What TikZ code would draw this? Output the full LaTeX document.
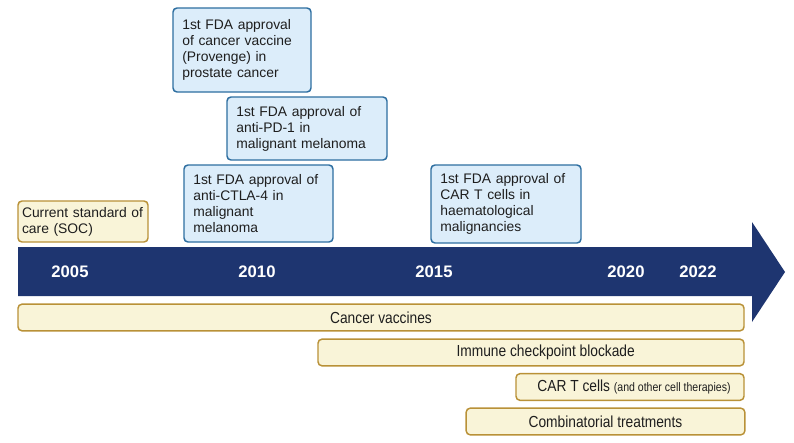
\documentclass[tikz,border=0pt]{standalone}
\usepackage{fontspec}
\setmainfont{Liberation Sans}
\newfontfamily\condfont{Liberation Sans}[FakeStretch=0.86]
\definecolor{navyarrow}{RGB}{30,53,112}
\definecolor{bluefill}{RGB}{220,237,250}
\definecolor{blueline}{RGB}{45,110,160}
\definecolor{sandfill}{RGB}{249,244,216}
\definecolor{sandline}{RGB}{185,145,55}
\definecolor{inktext}{RGB}{30,30,30}
\usetikzlibrary{positioning}

\begin{document}
\begin{tikzpicture}[x=0.75pt,y=-0.75pt,
  event/.style={draw=blueline,fill=bluefill,line width=1.1pt,rounded corners=3pt,
                inner xsep=7pt,align=left,text=inktext,
                font=\fontsize{10.4}{12}\selectfont},
  soc/.style={draw=sandline,fill=sandfill,line width=1.1pt,rounded corners=3pt,
              inner xsep=3pt,align=left,text=inktext,
              font=\fontsize{10.4}{12}\selectfont},
  bar/.style={draw=sandline,fill=sandfill,line width=1.1pt,rounded corners=3pt,
              minimum height=20pt,text=inktext,font=\condfont\fontsize{12}{14}\selectfont},
  year/.style={text=white,font=\bfseries\fontsize{12.5}{14}\selectfont}
]
  \useasboundingbox (0,0) rectangle (794,443);
  % Timeline arrow
  \fill[navyarrow] (18,247) -- (752,247) -- (752,222) -- (785,272)
    -- (752,322) -- (752,296) -- (18,296) -- cycle;
  \node[year] (y2005) at (70,272) {2005};
  \node[year] (y2010) at (257,272) {2010};
  \node[year] (y2015) at (434,272) {2015};
  \node[year] (y2020) at (626,272) {2020};
  \node[year] (y2022) at (698,272) {2022};
  % Milestones above the arrow
  \node[soc,minimum width=97.5pt,minimum height=30.75pt,text width=91.5pt]
    (soc) at (83,221.5) {Current standard of\\care (SOC)};
  \node[event,minimum width=103.5pt,minimum height=63pt,text width=89.5pt]
    (provenge) at (242,50) {1st FDA approval\\of cancer vaccine\\(Provenge) in\\prostate cancer};
  \node[event,minimum width=120pt,minimum height=47.25pt,text width=106pt]
    (pd1) at (307,128.5) {1st FDA approval of\\anti-PD-1 in\\malignant melanoma};
  \node[event,minimum width=111.75pt,minimum height=57.75pt,text width=97.75pt]
    (ctla4) at (258.5,203.5) {1st FDA approval of\\anti-CTLA-4 in\\malignant\\melanoma};
  \node[event,minimum width=112.5pt,minimum height=58.5pt,text width=98.5pt]
    (cart) at (506,204) {1st FDA approval of\\CAR T cells in\\haematological\\malignancies};
  % Therapy bars below the arrow
  \node[bar,minimum width=544.5pt] (vacc) at (381,317.5) {Cancer vaccines\hspace{18pt}};
  \node[bar,minimum width=319.5pt] (icb) at (531,352.5) {\hspace{22pt}Immune checkpoint blockade};
  \node[bar,minimum width=171pt] (cells) at (630,387)
    {\hspace{6pt}CAR T cells {\fontsize{9.2}{10}\selectfont(and other cell therapies)}};
  \node[bar,minimum width=209pt] (combo) at (605.5,421.5) {Combinatorial treatments};
\end{tikzpicture}
\end{document}
